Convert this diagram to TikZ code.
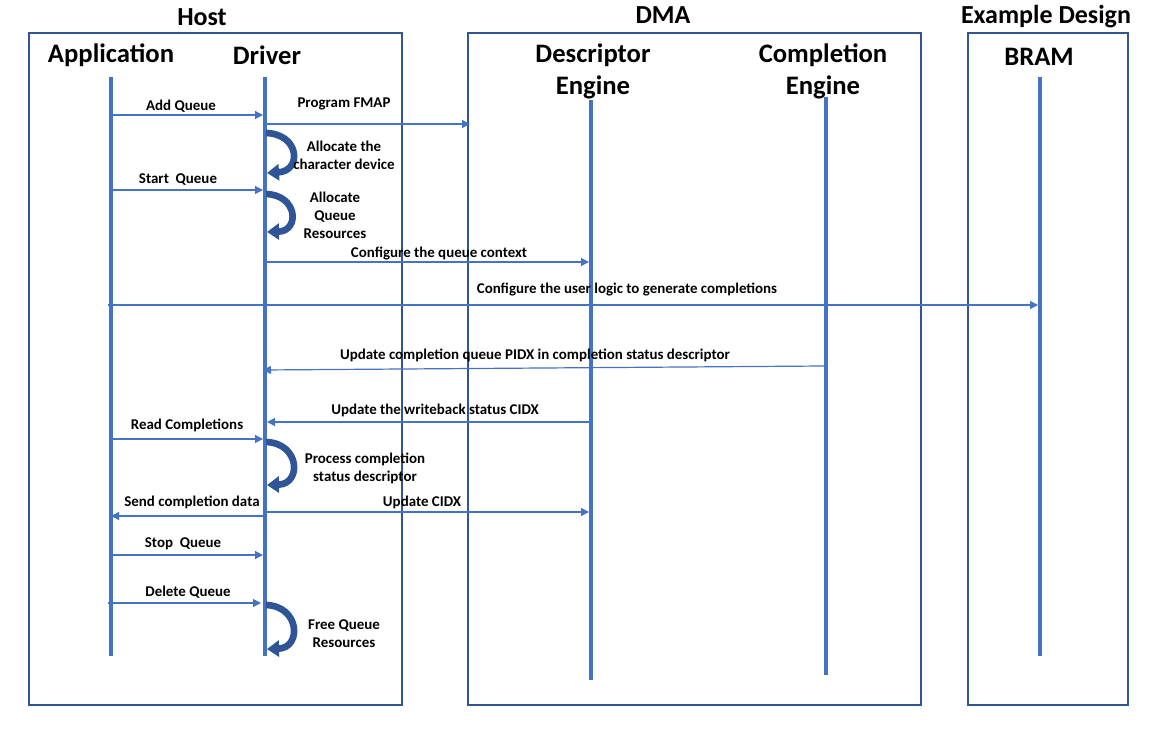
\documentclass[tikz,border=0pt]{standalone}
\usepackage{fontspec}
\setmainfont{Carlito}
\usetikzlibrary{arrows.meta}
\definecolor{boxblue}{HTML}{2F5597}
\definecolor{lineblue}{HTML}{4472C4}
\begin{document}
\begin{tikzpicture}[x=0.75pt, y=-0.75pt,
    group/.style={draw=boxblue, line width=2pt},
    title/.style={font=\bfseries\fontsize{19.5}{20}\selectfont},
    actor/.style={font=\bfseries\fontsize{20}{24}\selectfont, align=center},
    life/.style={draw=lineblue, line width=2.4pt},
    msg/.style={draw=lineblue, line width=0.9pt, -{Triangle[length=6pt,width=6pt]}},
    lbl/.style={font=\bfseries\fontsize{11.2}{13.5}\selectfont, align=center, inner sep=1pt},
    selfloop/.style={draw=boxblue, line width=5pt, -{Triangle[length=9pt,width=12pt]}}]
    \useasboundingbox (0,0) rectangle (1166,730);

    % groups
    \draw[group] (29,33) rectangle (402,705);
    \draw[group] (468,33) rectangle (921,705);
    \draw[group] (968,33) rectangle (1128,705);
    \node[title] (host) at (202,17) {Host};
    \node[title] (dma) at (663,15) {DMA};
    \node[title] (exdesign) at (1046,17) {Example Design};

    % actors
    \node[actor] (application) at (111,55) {Application};
    \node[actor] (driver) at (267,55) {Driver};
    \node[actor] (desceng) at (593,71) {Descriptor\\Engine};
    \node[actor] (compleng) at (823,71) {Completion\\Engine};
    \node[actor] (bram) at (1039,57) {BRAM};

    % lifelines
    \coordinate (app) at (111,77);  \coordinate (appEnd) at (111,656);
    \coordinate (drv) at (265,77);  \coordinate (drvEnd) at (265,656);
    \coordinate (dsc) at (591,100); \coordinate (dscEnd) at (591,680);
    \coordinate (cmp) at (826,97);  \coordinate (cmpEnd) at (826,675);
    \coordinate (brm) at (1040,77); \coordinate (brmEnd) at (1040,656);
    \draw[life] (app) -- (appEnd);
    \draw[life] (drv) -- (drvEnd);
    \draw[life] (dsc) -- (dscEnd);
    \draw[life] (cmp) -- (cmpEnd);
    \draw[life] (brm) -- (brmEnd);

    % messages
    \draw[msg] (111,115) -- (263,115);
    \node[lbl] (addq) at (181,106) {Add Queue};
    \draw[msg] (267,124) -- (470,124);
    \node[lbl] (fmap) at (344,104) {Program FMAP};
    \draw[selfloop] (266,133) .. controls (300,134) and (302,171) .. (267,173);
    \node[lbl] (alloccdev) at (344,155) {Allocate the\\character device};
    \draw[msg] (111,190) -- (263,190);
    \node[lbl] (startq) at (178,180) {Start~~Queue};
    \draw[selfloop] (266,194) .. controls (298,195) and (300,231) .. (267,232);
    \node[lbl] (allocres) at (335,215) {Allocate\\Queue\\Resources};
    \draw[msg] (265,262) -- (589,262);
    \node[lbl] (qctx) at (439,254) {Configure the queue context};
    \draw[msg] (108,305) -- (1038,305);
    \node[lbl] (userlogic) at (627,290) {Configure the user logic to generate completions};
    \draw[msg] (824,366) -- (263,370);
    \node[lbl] (pidx) at (535,355) {Update completion queue PIDX in completion status descriptor};
    \draw[msg] (590,422) -- (267,422);
    \node[lbl] (wbcidx) at (435,410) {Update the writeback status CIDX};
    \draw[msg] (111,439) -- (263,439);
    \node[lbl] (readc) at (187,425) {Read Completions};
    \draw[selfloop] (266,442) .. controls (300,443) and (302,484) .. (267,485);
    \node[lbl] (procstat) at (365,468) {Process completion\\status descriptor};
    \draw[msg] (265,516) -- (111,516);
    \node[lbl] (sendc) at (192,502) {Send completion data};
    \draw[msg] (265,512) -- (589,512);
    \node[lbl] (updcidx) at (422,502) {Update CIDX};
    \draw[msg] (111,555) -- (263,555);
    \node[lbl] (stopq) at (183,544) {Stop~~Queue};
    \draw[msg] (108,603) -- (261,603);
    \node[lbl] (delq) at (188,592) {Delete Queue};
    \draw[selfloop] (266,605) .. controls (300,606) and (302,648) .. (267,649);
    \node[lbl] (freeres) at (344,634) {Free Queue\\Resources};
\end{tikzpicture}
\end{document}
